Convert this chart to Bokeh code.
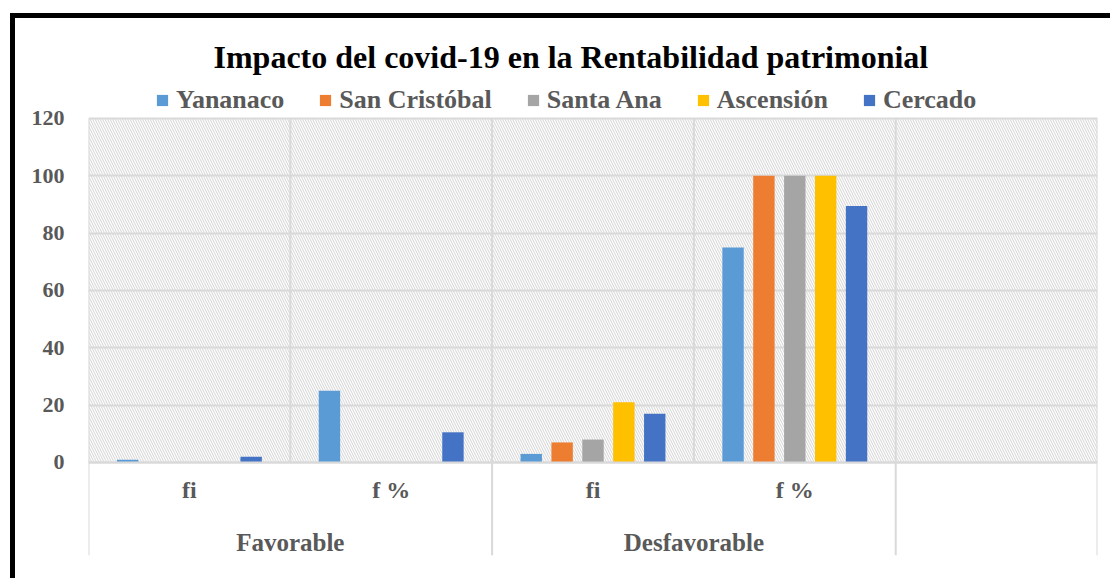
from bokeh.plotting import figure
from bokeh.models import (FactorRange, ColumnDataSource, Legend, LegendItem, BoxAnnotation,
                          FixedTicker, CategoricalAxis)
from bokeh.transform import dodge
from bokeh.embed import file_html
from bokeh.resources import INLINE

# ---------------- data ----------------
title_text = "Impacto del covid-19 en la Rentabilidad patrimonial"
groups = ["Favorable", "Favorable", "Desfavorable", "Desfavorable", " "]
subcats = ["fi", "f %", "fi", "f %", " "]
series = ["Yananaco", "San Cristóbal", "Santa Ana", "Ascensión", "Cercado"]
colors = ["#5B9BD5", "#ED7D31", "#A5A5A5", "#FFC000", "#4472C4"]
yananaco = [1, 25, 3, 75, None]
san_cristobal = [0, 0, 7, 100, None]
santa_ana = [0, 0, 8, 100, None]
ascension = [0, 0, 21, 100, None]
cercado = [2, 10.53, 17, 89.47, None]
y_ticks = [0, 20, 40, 60, 80, 100, 120]

values = [yananaco, san_cristobal, santa_ana, ascension, cercado]
factors = list(zip(groups, subcats))

FONT = "Liberation Serif"
LABEL_COLOR = "#595959"
GRID = "#d9d9d9"
Y_START = -32.44
Y_END = 131.5
GROUP_AXIS_Y = -17.8   # layout position of the group-label row

p = figure(
    width=1100, height=565,
    x_range=FactorRange(*factors, factor_padding=0, group_padding=0, subgroup_padding=0, range_padding=0),
    y_range=(Y_START, Y_END),
    output_backend="svg", toolbar_location=None,
    min_border_left=73, min_border_right=18, min_border_bottom=28, min_border_top=67,
    x_axis_location=None,
    title=title_text,
)
p.styles = {"margin-left": "10px", "margin-top": "13px",
            "border-left": "5px solid black", "border-top": "5px solid black"}
p.outline_line_color = None
p.background_fill_color = "white"
p.border_fill_color = "white"

p.title.align = "left"
p.title.text_font = FONT
p.title.text_font_style = "bold"
p.title.text_font_size = "32px"
p.title.text_color = "black"
p.title.offset = 125
p.title.standoff = 22

# hatched plot area
p.add_layout(BoxAnnotation(bottom=0, top=max(y_ticks), fill_color="white", fill_alpha=1,
                           line_color=None, hatch_pattern="\\", hatch_color="#dcdcdc",
                           hatch_scale=5, hatch_weight=1.2, level="image"))

# grid / y axis
p.xgrid.visible = False
p.ygrid.ticker = FixedTicker(ticks=y_ticks)
p.ygrid.grid_line_color = GRID
p.ygrid.grid_line_width = 2
p.yaxis.ticker = FixedTicker(ticks=y_ticks)
p.yaxis.axis_line_color = None
p.yaxis.major_tick_line_color = None
p.yaxis.minor_tick_line_color = None
p.yaxis.major_label_text_font = FONT
p.yaxis.major_label_text_font_style = "bold"
p.yaxis.major_label_text_font_size = "22px"
p.yaxis.major_label_text_color = LABEL_COLOR
p.yaxis.major_label_standoff = 18

# vertical lines at category boundaries
bx = [(g, s, -0.5) for g, s in factors] + [(groups[-1], subcats[-1], 0.5)]
p.segment(x0=bx, x1=bx, y0=[0] * len(bx), y1=[max(y_ticks)] * len(bx),
          line_color=GRID, line_width=2, level="underlay")
sep = []
for i, (g, s) in enumerate(factors):
    if i == 0 or groups[i - 1] != g:
        sep.append((g, s, -0.5))
sep.append((groups[-1], subcats[-1], 0.5))
p.segment(x0=sep, x1=sep, y0=[Y_START] * len(sep), y1=[0] * len(sep),
          line_color=GRID, line_width=2, level="underlay")

# bars
src = ColumnDataSource(dict(x=factors, **{f"s{i}": [v if v is not None else 0 for v in vals]
                                         for i, vals in enumerate(values)}))
bar_w = 0.106
pitch = 0.153
items = []
for i, (name, col) in enumerate(zip(series, colors)):
    off = (i - 2) * pitch
    r = p.vbar(x=dodge("x", off, range=p.x_range), top=f"s{i}", bottom=0, width=bar_w,
               source=src, fill_color=col, line_color=None)
    items.append(LegendItem(label=name, renderers=[r]))


def cat_axis(loc):
    ax = CategoricalAxis(fixed_location=loc)
    ax.major_tick_line_color = None
    ax.minor_tick_line_color = None
    ax.separator_line_color = None
    ax.major_label_text_font = FONT
    ax.major_label_text_font_style = "bold"
    ax.major_label_text_font_size = "24px"
    ax.major_label_text_color = LABEL_COLOR
    ax.major_label_standoff = 9
    ax.group_text_font = FONT
    ax.group_text_font_style = "bold"
    ax.group_text_font_size = "25px"
    ax.group_text_color = LABEL_COLOR
    return ax


# x axis at y = 0 : sub-category labels
xaxis = cat_axis(0)
xaxis.axis_line_color = GRID
xaxis.axis_line_width = 2
xaxis.group_text_color = None
p.add_layout(xaxis, "below")

# second row: group labels
gaxis = cat_axis(GROUP_AXIS_Y)
gaxis.axis_line_color = None
gaxis.major_label_text_color = None
p.add_layout(gaxis, "below")

legend = Legend(items=items, orientation="horizontal", location=(67, 440),
                label_text_font=FONT, label_text_font_style="bold", label_text_font_size="26px",
                label_text_color=LABEL_COLOR, glyph_width=14, glyph_height=14,
                label_standoff=7, spacing=34, padding=0, margin=0,
                border_line_color=None, background_fill_alpha=0)
p.add_layout(legend, "center")

open("out.html", "w").write(file_html(p, INLINE))
